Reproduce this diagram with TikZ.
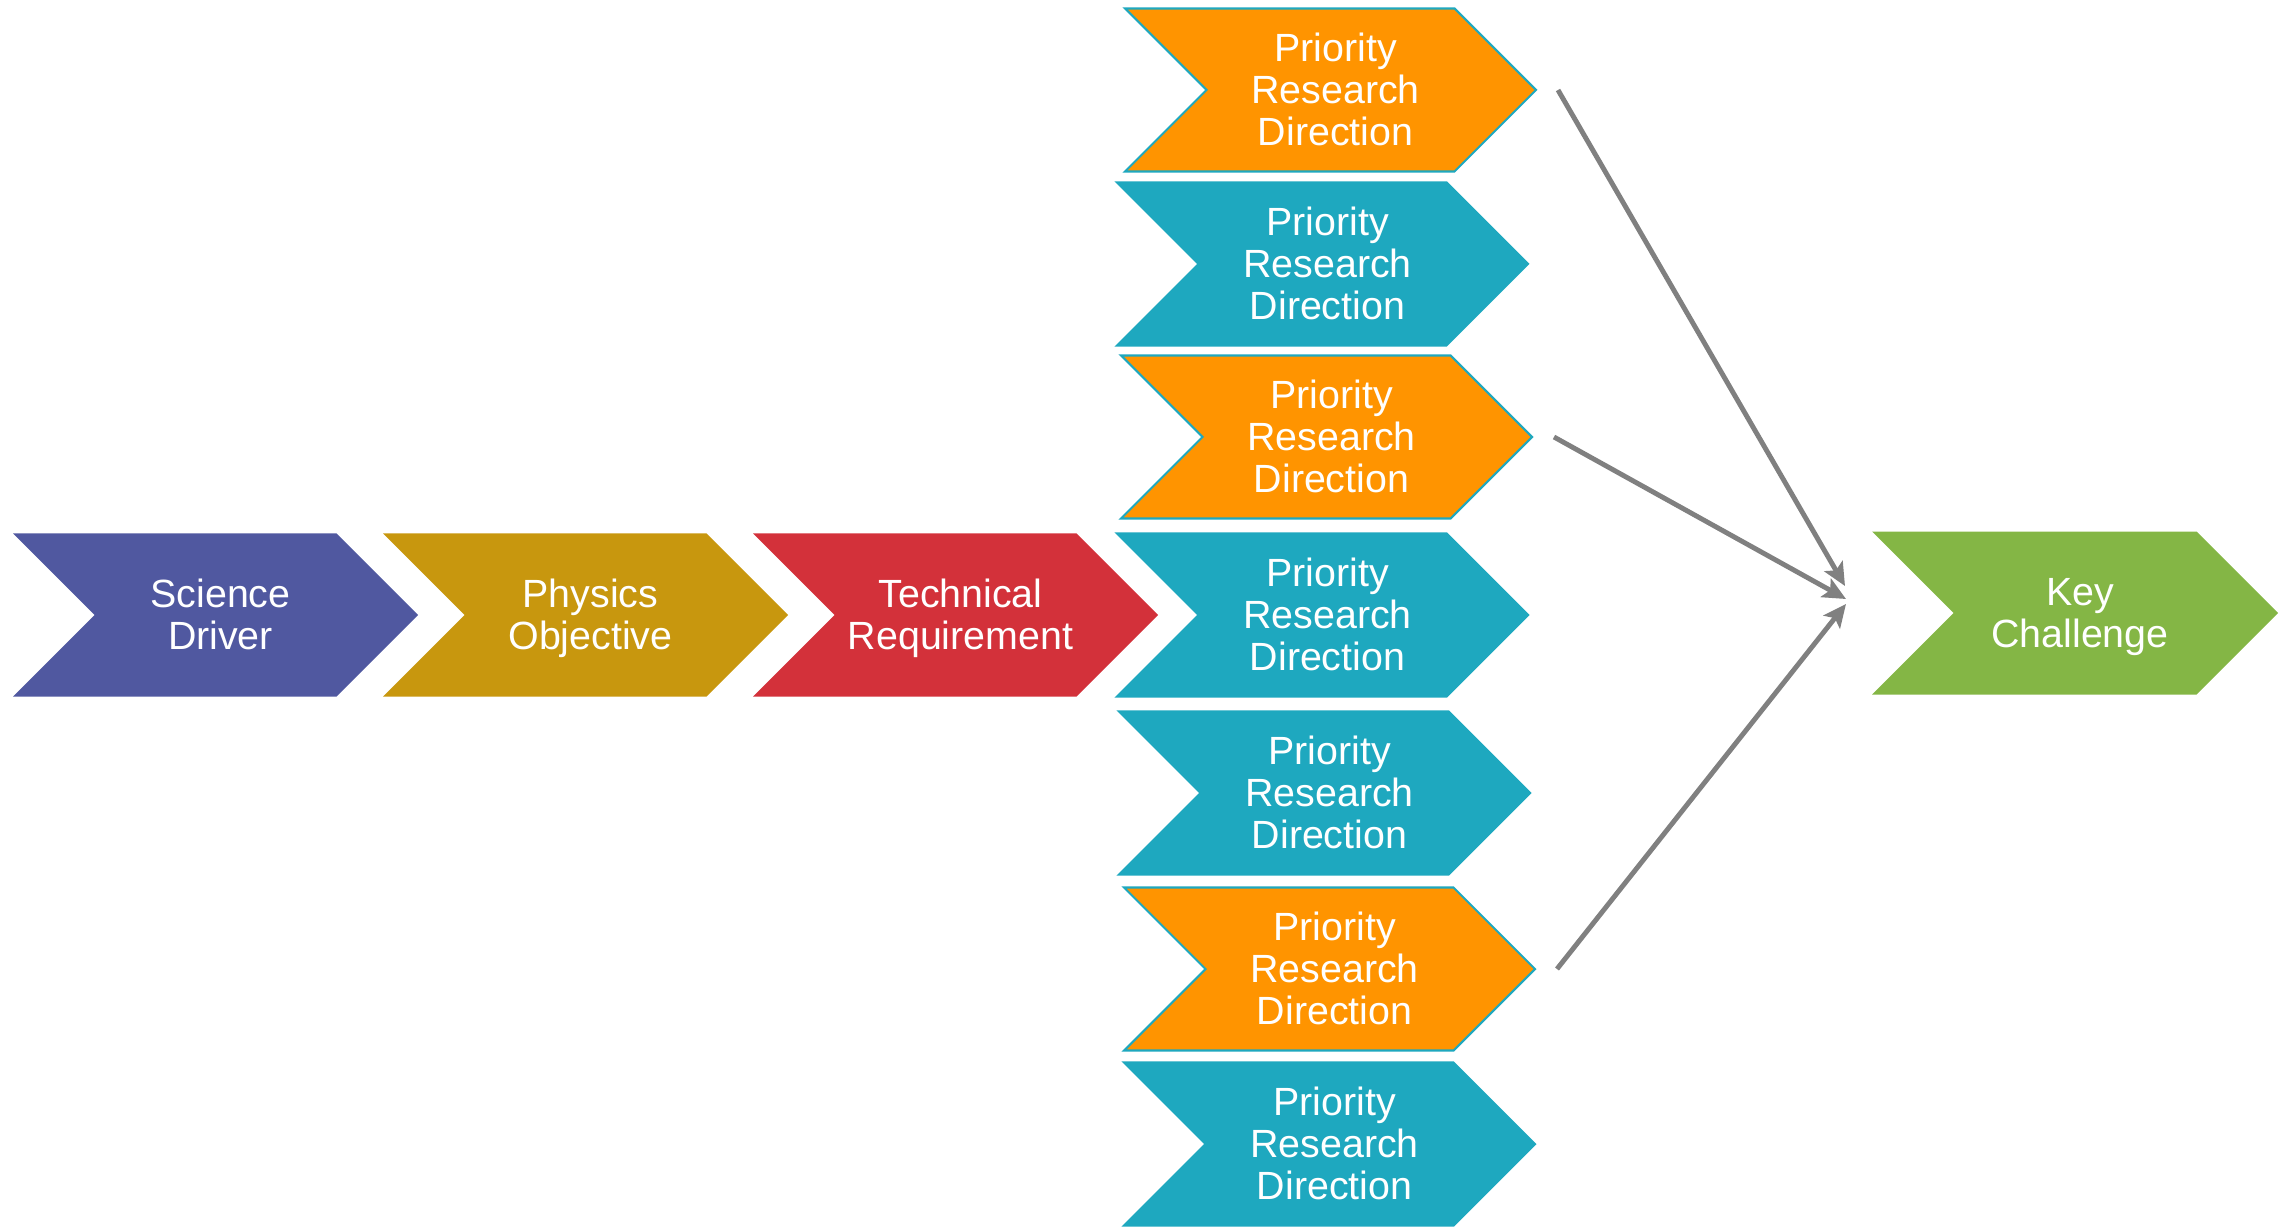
\documentclass[tikz,border=0pt]{standalone}
\usepackage{fontspec}
\setmainfont{Liberation Sans}
\usetikzlibrary{arrows.meta}

\definecolor{sdcol}{HTML}{5058A0}
\definecolor{pocol}{HTML}{C8970E}
\definecolor{trcol}{HTML}{D3313A}
\definecolor{prdorange}{HTML}{FF9400}
\definecolor{prdteal}{HTML}{1EA8BF}
\definecolor{kccol}{HTML}{84B645}
\definecolor{linkgray}{HTML}{808080}

% chevron: name, left x, mid depth, width, fill style, text
\newcommand{\chevron}[6]{%
  \path[#5] (#2,-#3+0.815) -- ++(#4-0.815,0) -- ++(0.815,-0.815)
    -- ++(-0.815,-0.815) -- ++(-#4+0.815,0) -- ++(0.815,0.815) -- cycle;
  \node[lbl] (#1) at (#2+#4/2+0.05,-#3-0.05) {\strut#6\strut};
  \coordinate (#1-out) at (#2+#4+0.22,-#3);
}

\begin{document}
\begin{tikzpicture}[
    lbl/.style={text=white, align=center, inner sep=0pt,
      font=\fontsize{11.2}{12}\selectfont},
    link/.style={draw=linkgray, line width=1.4pt,
      -{Stealth[length=2.3mm, width=2.1mm, inset=0.5mm]}}
  ]
    \useasboundingbox (0,0) rectangle (22.85,-12.27);

    % Hàng chính
    \chevron{sd}{0.13}{6.15}{4.05}{fill=sdcol}{Science\\Driver}
    \chevron{po}{3.83}{6.15}{4.05}{fill=pocol}{Physics\\Objective}
    \chevron{tr}{7.53}{6.15}{4.05}{fill=trcol}{Technical\\Requirement}

    % Cột hướng nghiên cứu
    \foreach \i/\x/\y/\c in {1/11.25/0.90/prdorange, 2/11.17/2.64/prdteal,
        3/11.21/4.37/prdorange, 4/11.17/6.15/prdteal, 5/11.19/7.93/prdteal,
        6/11.24/9.69/prdorange, 7/11.24/11.44/prdteal} {
        \chevron{prd\i}{\x}{\y}{4.11}{fill=\c, draw=prdteal, line width=0.6pt}{Priority\\Research\\Direction}
    }

    % Thách thức chính
    \chevron{kc}{18.72}{6.13}{4.06}{fill=kccol}{Key\\Challenge}

    % Mũi tên
    \coordinate (kin1) at (18.45,-5.86);
    \coordinate (kin2) at (18.46,-5.99);
    \coordinate (kin3) at (18.46,-6.04);
    \draw[link] (prd1-out) -- (kin1);
    \draw[link] (prd3-out) -- (kin2);
    \draw[link] (prd6-out) -- (kin3);
\end{tikzpicture}
\end{document}
